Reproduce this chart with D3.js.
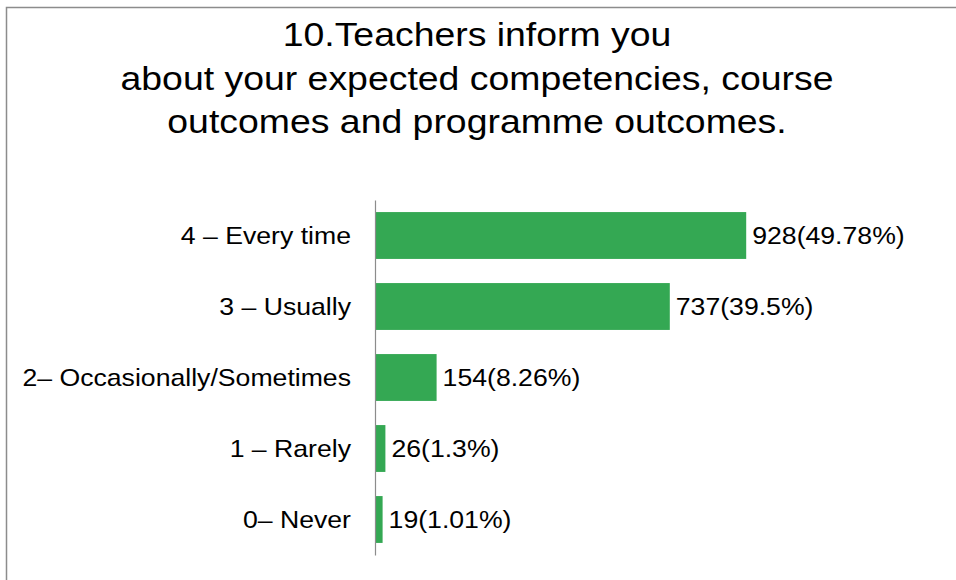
<!DOCTYPE html>
<html>
<head>
<meta charset="utf-8">
<script src="https://cdn.jsdelivr.net/npm/d3@7"></script>
<style>
  body { margin: 0; background: #fff; }
  svg text { font-family: "Liberation Sans", Arial, sans-serif; fill: #000; }
</style>
</head>
<body>
<svg id="chart"></svg>
<script>
const width = 956;
const height = 580;

// data
const categories = ["4 – Every time", "3 – Usually", "2– Occasionally/Sometimes", "1 – Rarely", "0– Never"];
const counts = [928, 737, 154, 26, 19];
const percents = ["49.78%", "39.5%", "8.26%", "1.3%", "1.01%"];
const titleLines = ["10.Teachers inform you", "about your expected competencies, course", "outcomes and programme outcomes."];

// the text in the picture is a bit wider than Liberation Sans
const stretch = 1.11;
const titleStretch = 1.1;

const svg = d3.select("#chart")
    .attr("width", width)
    .attr("height", height);

// frame
svg.append("path")
    .attr("d", `M 6.5 ${height} V 7.5 H ${width}`)
    .attr("fill", "none")
    .attr("stroke", "#8c8c8c")
    .attr("stroke-width", 1.5);

// title
svg.append("g").selectAll("text")
    .data(titleLines)
    .join("text")
    .attr("transform", (d, i) => `translate(477,${46 + i * 43.5}) scale(${titleStretch},1)`)
    .attr("text-anchor", "middle")
    .style("font-size", "34px")
    .text(d => d);

const x = d3.scaleLinear().domain([0, 1000]).range([375, 775]);
const y = d3.scaleBand().domain(categories).range([200, 555])
    .paddingInner(0.34).paddingOuter(0.17);

svg.append("g").selectAll("rect")
    .data(categories)
    .join("rect")
    .attr("x", x(0))
    .attr("y", d => y(d))
    .attr("width", (d, i) => x(counts[i]) - x(0))
    .attr("height", y.bandwidth())
    .attr("fill", "#34a853");

// category axis
const axis = svg.append("g")
    .attr("transform", `translate(${x(0)},0)`)
    .call(d3.axisLeft(y).tickSize(0));
axis.select(".domain").attr("stroke", "#8c8c8c").attr("stroke-width", 1.2);
axis.selectAll(".tick text")
    .attr("x", null)
    .attr("transform", `translate(-24,0) scale(${stretch},1)`)
    .attr("dy", "0.35em")
    .style("font-size", "24px");

// value labels
svg.append("g").selectAll("text")
    .data(categories)
    .join("text")
    .attr("transform", (d, i) => `translate(${x(counts[i]) + 6},${y(d) + y.bandwidth() / 2}) scale(${stretch},1)`)
    .attr("dy", "0.35em")
    .style("font-size", "24px")
    .text((d, i) => `${counts[i]}(${percents[i]})`);
</script>
</body>
</html>
